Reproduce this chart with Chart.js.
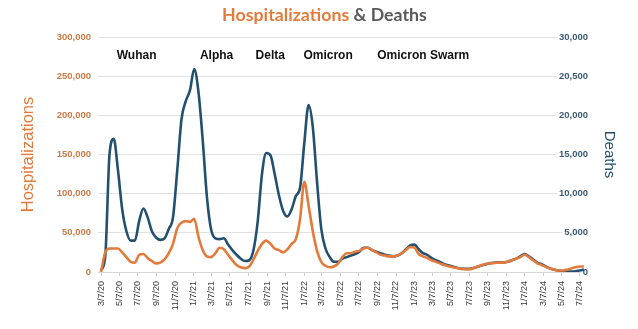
<!DOCTYPE html>
<html>
<head>
<meta charset="utf-8">
<script src="https://cdn.jsdelivr.net/npm/chart.js@4/dist/chart.umd.min.js"></script>
<style>
  html, body { margin: 0; padding: 0; background: #fff; }
  #wrap { width: 638px; height: 329px; }
</style>
</head>
<body>
<div id="wrap"><canvas id="c" width="638" height="329"></canvas></div>
<script>
// Series start date and spacing between readings (days)
const seriesStart = '3/7/20';
const stepDays = 14;

// Weekly-averaged hospitalizations, one reading every two weeks
const hospitalizations = [
  0, 25000, 30000, 30000, 30000, 25000, 19000, 13000, 12000, 22000,
  23000, 18000, 14000, 11000, 12000, 16000, 24000, 36000, 56000, 63000,
  65000, 64000, 68000, 45000, 28000, 20000, 19000, 24000, 31000, 29000,
  22000, 15000, 9000, 6000, 5000, 7000, 16000, 27000, 36000, 40000,
  36000, 30000, 28000, 25000, 29000, 36000, 42000, 68000, 115000, 85000,
  52000, 27000, 13000, 8000, 6000, 7000, 11000, 19000, 24000, 24000,
  26000, 27000, 30000, 31000, 28000, 25000, 22000, 21000, 20000, 20000,
  21000, 24000, 28000, 32000, 31000, 23000, 20000, 18000, 15000, 13000,
  11000, 9000, 7500, 6000, 5000, 4000, 3500, 3500, 5000, 7000,
  9000, 10500, 11000, 11500, 12000, 12000, 13000, 15000, 17000, 19000,
  22000, 19000, 15000, 11000, 9000, 6500, 4500, 3000, 2000, 2000,
  3000, 4500, 6000, 7000, 7000
];

// Weekly deaths, same dates
const deaths = [
  200, 2000, 15000, 17000, 13000, 8000, 5200, 4000, 4000, 6500,
  8100, 7000, 5200, 4400, 4100, 4300, 5500, 7000, 13000, 19500,
  21800, 23200, 25900, 23000, 16900, 9600, 5400, 4300, 4200, 4300,
  3500, 2800, 2200, 1700, 1400, 1500, 2800, 6500, 12500, 15200,
  14900, 12500, 9800, 7800, 7100, 8000, 9700, 10800, 16500, 21300,
  18500, 11500, 5500, 3000, 1900, 1300, 1300, 1700, 1900, 2100,
  2300, 2600, 3100, 3100, 2800, 2600, 2400, 2200, 2100, 2000,
  2100, 2400, 2900, 3400, 3500, 2900, 2400, 2200, 1800, 1500,
  1300, 1000, 850, 700, 550, 450, 400, 400, 500, 700,
  850, 1000, 1150, 1200, 1250, 1200, 1300, 1500, 1700, 2000,
  2300, 2000, 1600, 1200, 1000, 700, 450, 300, 200, 100,
  100, 50, 100, 200, 300
];

// Axis tick labels
const dateLabels = [
  '3/7/20', '5/7/20', '7/7/20', '9/7/20', '11/7/20',
  '1/7/21', '3/7/21', '5/7/21', '7/7/21', '9/7/21', '11/7/21',
  '1/7/22', '3/7/22', '5/7/22', '7/7/22', '9/7/22', '11/7/22',
  '1/7/23', '3/7/23', '5/7/23', '7/7/23', '9/7/23', '11/7/23',
  '1/7/24', '3/7/24', '5/7/24', '7/7/24'
];
const hospTicks = [0, 50000, 100000, 150000, 200000, 250000, 300000];
const deathTicks = [0, 5000, 10000, 15000, 20000, 25000, 30000];
const deathTickLabels = ['0', '5,000', '10,000', '15,000', '20,000', '20,500', '30,000'];

// Variant wave names written above the curves
const waveNames = ['Wuhan', 'Alpha', 'Delta', 'Omicron', 'Omicron Swarm'];
const waveDates = ['4/28/20', '1/28/21', '7/31/21', '1/5/22', '9/6/22'];

const ORANGE = '#E27B3B';
const BLUE = '#22506E';
const SANS = '"Liberation Sans", Arial, sans-serif';

function parseMDY(s) {
  const [m, d, y] = s.split('/').map(Number);
  return Date.UTC(2000 + y, m - 1, d);
}
const t0 = parseMDY(seriesStart);
const dayOf = s => (parseMDY(s) - t0) / 86400000;

const toPoints = arr => arr.map((v, i) => ({ x: i * stepDays, y: v }));

const titlePlugin = {
  id: 'twoToneTitle',
  afterDraw(chart) {
    const ctx = chart.ctx;
    const a = 'Hospitalizations';
    const b = ' & Deaths';
    let size = 18;
    ctx.save();
    ctx.font = `bold ${size}px Lato, "Open Sans", sans-serif`;
    const w0 = ctx.measureText(a + b).width;
    size = size * 205 / w0;
    ctx.font = `bold ${size}px Lato, "Open Sans", sans-serif`;
    const wa = ctx.measureText(a).width;
    const wb = ctx.measureText(b).width;
    const x0 = 324.5 - (wa + wb) / 2;
    ctx.textBaseline = 'middle';
    ctx.textAlign = 'left';
    ctx.fillStyle = ORANGE;
    ctx.fillText(a, x0, 15);
    ctx.fillStyle = '#595959';
    ctx.fillText(b, x0 + wa, 15);
    ctx.restore();
  }
};

const wavePlugin = {
  id: 'waveNames',
  afterDraw(chart) {
    const ctx = chart.ctx;
    const xs = chart.scales.x;
    const ys = chart.scales.yD;
    ctx.save();
    ctx.font = `bold 12px ${SANS}`;
    ctx.fillStyle = '#111';
    ctx.textAlign = 'left';
    ctx.textBaseline = 'middle';
    waveNames.forEach((name, i) => {
      ctx.fillText(name, xs.getPixelForValue(dayOf(waveDates[i])), ys.getPixelForValue(27600));
    });
    ctx.restore();
  }
};

new Chart(document.getElementById('c'), {
  type: 'line',
  data: {
    datasets: [
      {
        label: 'Hospitalizations',
        data: toPoints(hospitalizations),
        yAxisID: 'yH',
        borderColor: ORANGE,
        borderWidth: 2.6,
        pointRadius: 0,
        cubicInterpolationMode: 'monotone'
      },
      {
        label: 'Deaths',
        data: toPoints(deaths),
        yAxisID: 'yD',
        borderColor: BLUE,
        borderWidth: 2.6,
        pointRadius: 0,
        cubicInterpolationMode: 'monotone'
      }
    ]
  },
  options: {
    responsive: false,
    animation: false,
    devicePixelRatio: 1,
    layout: { padding: { top: 37, left: 0, right: 0, bottom: 0 } },
    plugins: { legend: { display: false }, title: { display: false }, tooltip: { enabled: false } },
    scales: {
      x: {
        type: 'linear',
        min: -10,
        max: 1603,
        afterBuildTicks: s => { s.ticks = dateLabels.map(l => ({ value: dayOf(l) })); },
        afterFit: s => { s.height = 57; },
        ticks: {
          autoSkip: false,
          minRotation: 90,
          maxRotation: 90,
          padding: 5,
          color: '#3a3a3a',
          font: { size: 9, family: SANS },
          callback: (v, i) => dateLabels[i]
        },
        grid: { drawOnChartArea: false, drawTicks: true, tickLength: 4, color: '#d0d0d0' },
        border: { color: '#d8d8d8' }
      },
      yH: {
        position: 'left',
        min: 0,
        max: 300000,
        afterBuildTicks: s => { s.ticks = hospTicks.map(v => ({ value: v })); },
        afterFit: s => { s.width = 98; },
        ticks: {
          padding: 7,
          color: '#CC7B45',
          font: { size: 9.5, weight: 'bold', family: SANS },
          callback: v => v.toLocaleString('en-US')
        },
        grid: { color: '#e2e2e2', drawTicks: false },
        border: { display: false },
        title: {
          display: true,
          text: 'Hospitalizations',
          color: ORANGE,
          font: { size: 16.5, family: SANS },
          padding: { top: 19, bottom: 0 }
        }
      },
      yD: {
        position: 'right',
        min: 0,
        max: 30000,
        afterBuildTicks: s => { s.ticks = deathTicks.map(v => ({ value: v })); },
        afterFit: s => { s.width = 52; },
        ticks: {
          mirror: true,
          padding: 2,
          color: '#3B5A73',
          font: { size: 9.5, weight: 'bold', family: SANS },
          showLabelBackdrop: true,
          backdropColor: '#ffffff',
          backdropPadding: { left: 2, right: 0, top: 0, bottom: 0 },
          callback: (v, i) => deathTickLabels[i]
        },
        grid: { display: false },
        border: { display: false },
        title: {
          display: true,
          text: 'Deaths',
          color: BLUE,
          font: { size: 15, family: SANS },
          padding: { top: 20, bottom: 0 }
        }
      }
    }
  },
  plugins: [titlePlugin, wavePlugin]
});
</script>
</body>
</html>
